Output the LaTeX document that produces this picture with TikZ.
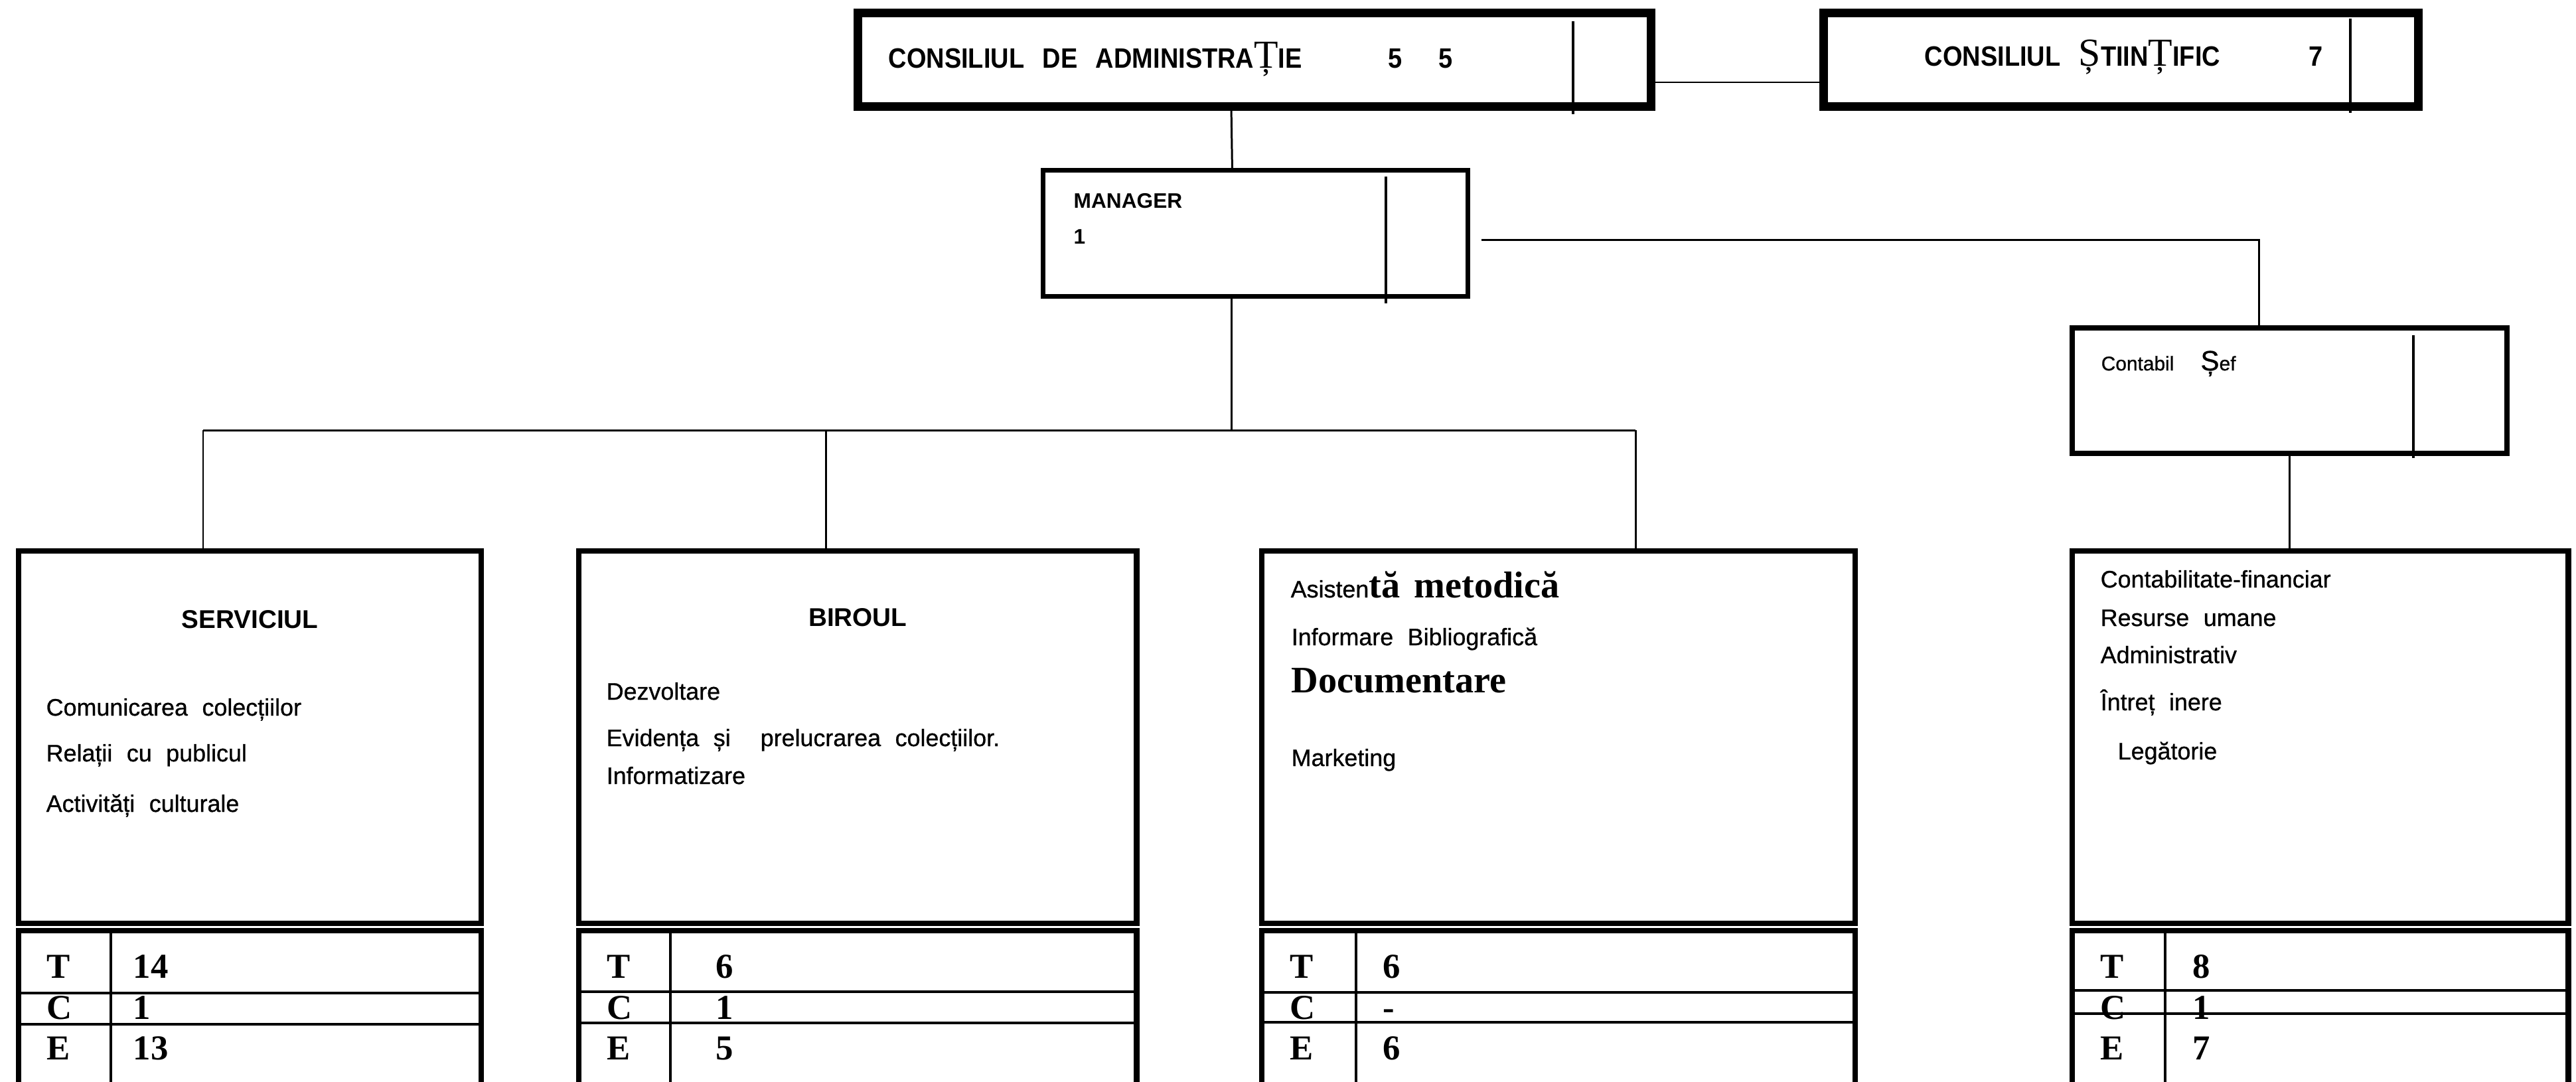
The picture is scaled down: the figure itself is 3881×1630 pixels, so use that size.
\documentclass[tikz,border=0pt]{standalone}
\usepackage{fontspec}
\setmainfont{Liberation Sans}
\newfontfamily\narrowsans[FakeStretch=0.9]{Liberation Sans}
\newfontfamily\itemsans[FakeBold=0.8]{Liberation Sans}
\newfontfamily\romanfont{Liberation Serif}
\usetikzlibrary{positioning}
\newcommand\accletter[1]{{\romanfont\mdseries\fontsize{17}{17}\selectfont #1}}

\begin{document}
\begin{tikzpicture}[x=0.01cm, y=-0.01cm,
  board/.style={draw, line width=3.7pt, inner sep=0pt, outer sep=0pt, minimum height=1.41cm},
  unitbox/.style={draw, line width=2.3pt, inner sep=0pt, outer sep=0pt},
  link/.style={line width=0.85pt},
  divider/.style={line width=1.1pt},
  capstxt/.style={font={\narrowsans\bfseries\fontsize{12}{14}\selectfont\spaceskip 0.65em\relax}, anchor=base west, inner sep=0pt},
  tagtxt/.style={font=\bfseries\fontsize{9}{11}\selectfont, anchor=base west, inner sep=0pt},
  headtxt/.style={font=\bfseries\fontsize{11}{13}\selectfont, anchor=base, inner sep=0pt},
  itemtxt/.style={font={\itemsans\fontsize{10.2}{12}\selectfont\spaceskip 0.6em\relax}, anchor=base west, inner sep=0pt},
  tabtxt/.style={font=\romanfont\bfseries\fontsize{15}{15}\selectfont, anchor=base west, inner sep=0pt}]
  \useasboundingbox (0,0) rectangle (3881,1630);
  \clip (0,0) rectangle (3881,1630);

  % top level
  \node[board, minimum width=11.95cm] (ca) at (1890,90) {};
  \node[board, minimum width=8.96cm] (cs) at (3195.5,90) {};
  \node[capstxt] (caName) at (1338,102) {CONSILIUL DE ADMINISTRA\accletter{Ț}IE};
  \node[capstxt] (caNumA) at (2091,102) {5};
  \node[capstxt] (caNumB) at (2167,102) {5};
  \node[capstxt] (csName) at (2899,100) {CONSILIUL \accletter{Ș}TIIN\accletter{Ț}IFIC};
  \node[capstxt] (csNum) at (3478,100) {7};
  \draw[divider] ([shift={(-117.5,12.5)}]ca.north east) -- ([shift={(-117.5,11)}]ca.south east);
  \draw[divider] ([shift={(-102.5,8.5)}]cs.north east) -- ([shift={(-102.5,9.5)}]cs.south east);
  \draw[link] ([shift={(0,34)}]ca.east) -- ([shift={(0,34)}]cs.west);

  % manager and chief accountant
  \node[unitbox, line width=2pt, minimum width=6.40cm, minimum height=1.90cm] (mgr) at (1891.5,351.5) {};
  \node[tagtxt] (mgrName) at (1617,313) {MANAGER};
  \node[tagtxt] (mgrNum) at (1617,367) {1};
  \draw[divider] ([shift={(-123.5,9.5)}]mgr.north east) -- ([shift={(-123.5,10.5)}]mgr.south east);
  \draw[link] ([xshift=-0.35cm]ca.south) -- ([xshift=-0.35cm]mgr.north);

  \node[unitbox, minimum width=6.55cm, minimum height=1.89cm] (sef) at (3449.5,588.5) {};
  \node[tagtxt, font=\itemsans\fontsize{8.5}{10}\selectfont] (sefName) at (3165,558) {Contabil\hspace{0.4cm}{\fontsize{12}{12}\selectfont Ș}ef};
  \draw[divider] ([shift={(-141,11)}]sef.north east) -- ([shift={(-141,7)}]sef.south east);
  \draw[link] ([shift={(20,10)}]mgr.east) -| ([xshift=-0.465cm]sef.north);

  % departments
  \node[unitbox, minimum width=6.97cm, minimum height=5.61cm, anchor=north west] (srv) at (28,830) {};
  \node[unitbox, minimum width=8.40cm, minimum height=5.61cm, anchor=north west] (bir) at (872,830) {};
  \node[unitbox, minimum width=8.93cm, minimum height=5.61cm, anchor=north west] (asist) at (1901,830) {};
  \node[unitbox, minimum width=7.47cm, minimum height=5.61cm, anchor=north west] (cont) at (3122,830) {};
  \node[unitbox, minimum width=6.97cm, minimum height=2.6cm, below=0.11cm of srv] (srvT) {};
  \node[unitbox, minimum width=8.40cm, minimum height=2.6cm, below=0.11cm of bir] (birT) {};
  \node[unitbox, minimum width=8.93cm, minimum height=2.6cm, below=0.11cm of asist] (asistT) {};
  \node[unitbox, minimum width=7.47cm, minimum height=2.6cm, below=0.11cm of cont] (contT) {};

  \coordinate (dropS) at (306,648);
  \coordinate (dropB) at (1244,648);
  \coordinate (dropA) at (2464,648);
  \draw[link] ([xshift=-0.36cm]mgr.south) -- ([xshift=-0.36cm]mgr.south |- dropS);
  \draw[link] (dropS) -- (dropA);
  \draw[link] (dropS) -- (dropS |- srv.north);
  \draw[link] (dropB) -- (dropB |- bir.north);
  \draw[link] (dropA) -- (dropA |- asist.north);
  \draw[link] (sef.south) -- (sef.south |- cont.north);

  \node[headtxt] (srvHead) at ([shift={(0,116)}]srv.north) {SERVICIUL};
  \node[itemtxt] (srvA) at (69,1078) {Comunicarea colecțiilor};
  \node[itemtxt] (srvB) at (69,1147) {Relații cu publicul};
  \node[itemtxt] (srvC) at (69,1223) {Activități culturale};

  \node[headtxt] (birHead) at ([shift={(0,113)}]bir.north) {BIROUL};
  \node[itemtxt] (birA) at (913,1054) {Dezvoltare};
  \node[itemtxt] (birB) at (913,1124) {Evidența și\hspace{0.45cm}prelucrarea colecțiilor.};
  \node[itemtxt] (birC) at (913,1181) {Informatizare};

  \node[itemtxt] (asistA) at (1944,900) {Asisten{\romanfont\bfseries\fontsize{16}{16}\selectfont tă metodică}};
  \node[itemtxt] (asistB) at (1945,972) {Informare Bibliografică};
  \node[itemtxt, font=\romanfont\bfseries\fontsize{16}{16}\selectfont] (asistC) at (1945,1043) {Documentare};
  \node[itemtxt] (asistD) at (1945,1154) {Marketing};

  \node[itemtxt] (contA) at (3164,885) {Contabilitate-financiar};
  \node[itemtxt] (contB) at (3164,943) {Resurse umane};
  \node[itemtxt] (contC) at (3164,999) {Administrativ};
  \node[itemtxt] (contD) at (3164,1070) {Întreț inere};
  \node[itemtxt] (contE) at (3190,1144) {Legătorie};

  % staff tables: total, conducere, executie
  \foreach \tb/\cx/\nx/\ra/\rb/\vt/\vc/\ve in {srvT/139/172/94/141/14/1/13, birT/138/206/92/139/6/1/5, asistT/142/182/93/138/6/-/6, contT/140/181/90/125/8/1/7}{
    \node[tabtxt] (\tb-T) at ([shift={(42,71)}]\tb.north west) {T};
    \node[tabtxt] (\tb-C) at ([shift={(42,133)}]\tb.north west) {C};
    \node[tabtxt] (\tb-E) at ([shift={(42,194)}]\tb.north west) {E};
    \node[tabtxt] (\tb-Tv) at ([shift={(\nx,71)}]\tb.north west) {\vt};
    \node[tabtxt] (\tb-Cv) at ([shift={(\nx,133)}]\tb.north west) {\vc};
    \node[tabtxt] (\tb-Ev) at ([shift={(\nx,194)}]\tb.north west) {\ve};
    \draw[divider] ([shift={(\cx,0)}]\tb.north west) -- ([shift={(\cx,0)}]\tb.south west)
      ([shift={(0,\ra)}]\tb.north west) -- ([shift={(0,\ra)}]\tb.north east)
      ([shift={(0,\rb)}]\tb.north west) -- ([shift={(0,\rb)}]\tb.north east);
  }
\end{tikzpicture}
\end{document}
